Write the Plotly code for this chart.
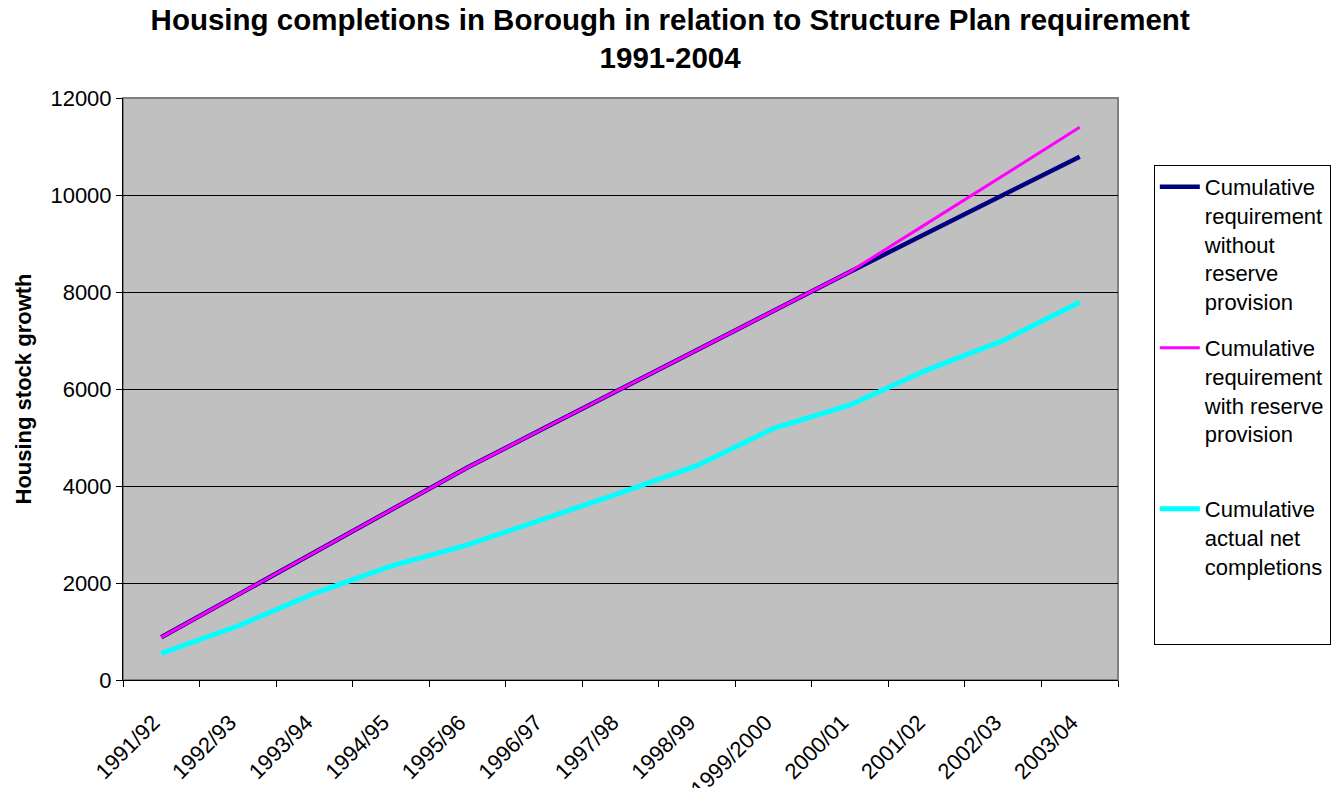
import plotly.graph_objects as go

YEARS = [
    "1991/92", "1992/93", "1993/94", "1994/95", "1995/96", "1996/97", "1997/98",
    "1998/99", "1999/2000", "2000/01", "2001/02", "2002/03", "2003/04",
]
REQ_WITHOUT_RESERVE = [880, 1755, 2630, 3505, 4380, 5190, 6000, 6805, 7610, 8420, 9210, 10000, 10790]
REQ_WITH_RESERVE = [880, 1755, 2630, 3505, 4380, 5190, 6000, 6805, 7610, 8420, 9410, 10400, 11395]
ACTUAL_COMPLETIONS = [550, 1113, 1787, 2350, 2784, 3320, 3860, 4420, 5190, 5670, 6390, 7000, 7790]

FONT = "Liberation Sans, Arial, sans-serif"
PLOT_BG = "#c0c0c0"

fig = go.Figure()
fig.add_trace(go.Scatter(
    x=YEARS, y=REQ_WITHOUT_RESERVE, mode="lines", legendgroup="a",
    name="Cumulative<br>requirement<br>without<br>reserve<br>provision",
    line={"color": "#000080", "width": 4.5},
))
fig.add_trace(go.Scatter(
    x=YEARS, y=REQ_WITH_RESERVE, mode="lines", legendgroup="b",
    name="Cumulative<br>requirement<br>with reserve<br>provision<br> ",
    line={"color": "#ff00ff", "width": 3},
))
fig.add_trace(go.Scatter(
    x=YEARS, y=ACTUAL_COMPLETIONS, mode="lines", legendgroup="c",
    name="Cumulative<br>actual net<br>completions<br> <br> ",
    line={"color": "#00ffff", "width": 5},
))

# grey frame round the plot area, like the Excel original
fig.add_shape(
    type="rect", xref="paper", yref="paper", x0=0, x1=1, y0=0, y1=1,
    line={"color": "#808080", "width": 2}, layer="below",
)

fig.update_layout(
    width=1335,
    height=780,
    paper_bgcolor="white",
    plot_bgcolor=PLOT_BG,
    font={"family": FONT, "color": "black", "size": 22},
    margin={"l": 115, "r": 216, "t": 90, "b": 108},
    title={
        "text": "<b>Housing completions in Borough in relation to Structure Plan requirement<br>1991-2004</b>",
        "x": 0.496, "xanchor": "center", "xref": "container",
        "y": 0.972, "yanchor": "top",
        "font": {"size": 29.5, "family": FONT},
    },
    legend={
        "x": 1.036, "xanchor": "left",
        "y": 0.885, "yanchor": "top",
        "bordercolor": "black", "borderwidth": 1,
        "font": {"size": 22, "family": FONT},
        "valign": "top",
        "itemwidth": 40,
        "tracegroupgap": 15,
        "traceorder": "grouped",
    },
    showlegend=True,
)

fig.update_xaxes(
    type="category",
    range=[-0.5, 12.5],
    tickangle=-45,
    tickson="boundaries",
    ticks="outside", ticklen=6, tickcolor="black",
    ticklabelstandoff=20,
    ticklabelshift=-8,
    automargin=False,
    showline=True, linecolor="black", linewidth=1,
    showgrid=False,
    tickfont={"size": 22},
)
fig.update_yaxes(
    range=[0, 12000],
    dtick=2000,
    tickformat="d",
    ticks="outside", ticklen=6, tickcolor="black",
    showline=True, linecolor="black", linewidth=1,
    gridcolor="black", gridwidth=1,
    zeroline=False,
    tickfont={"size": 22},
    title={"text": "<b>Housing stock growth</b>", "font": {"size": 22}, "standoff": 12},
)

fig.write_html("out.html")
